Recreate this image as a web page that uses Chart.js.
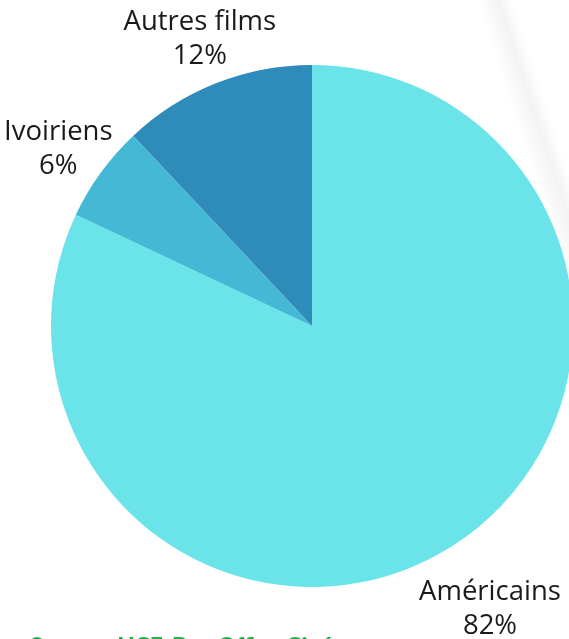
<!DOCTYPE html>
<html>
<head>
<meta charset="utf-8">
<script src="https://cdn.jsdelivr.net/npm/chart.js@4"></script>
<style>
  html, body { margin: 0; padding: 0; background: #fff; overflow: hidden; }
  #wrap { position: relative; width: 569px; height: 639px; overflow: hidden; }
  #shade {
    position: absolute; left: 470px; top: -20px; width: 34px; height: 300px;
    transform: rotate(-18deg); transform-origin: top left;
    background: linear-gradient(to right, rgba(255,255,255,0), rgba(228,228,232,0.45) 60%, rgba(255,255,255,0));
  }
  #chart { position: absolute; left: 0; top: 0; }
  #source {
    position: absolute; left: 30px; top: 634px; white-space: nowrap;
    font-family: Lato, sans-serif; font-weight: 900; font-size: 23px; line-height: 23px;
    color: #22b04b;
  }
</style>
</head>
<body>
<div id="wrap">
  <div id="shade"></div>
  <canvas id="chart" width="600" height="660"></canvas>
  <div id="source">Source : UCF, Box Office Ciné</div>
</div>
<script>
var categories = ['Américains', 'Ivoiriens', 'Autres films'];
var shares = [82, 6, 12];
var colors = ['#6ae4e8', '#45b8d6', '#2e8bba'];

// labels outside the pie: name on first line, percent below
var outsideLabels = {
  id: 'outsideLabels',
  afterDatasetsDraw: function (chart) {
    var ctx = chart.ctx;
    var meta = chart.getDatasetMeta(0);
    ctx.save();
    ctx.font = '27.5px "Open Sans", sans-serif';
    ctx.fillStyle = '#1a1a1a';
    ctx.textAlign = 'center';
    ctx.textBaseline = 'middle';
    meta.data.forEach(function (arc, i) {
      var p = arc.getProps(['x', 'y', 'startAngle', 'endAngle', 'outerRadius'], true);
      var mid = (p.startAngle + p.endAngle) / 2;
      var d = p.outerRadius + 60;
      var x = p.x + Math.cos(mid) * d + 6;
      var y = p.y + Math.sin(mid) * d + 12;
      ctx.fillText(categories[i], x, y - 17);
      ctx.fillText(shares[i] + '%', x, y + 17);
    });
    ctx.restore();
  }
};

var ctx = document.getElementById('chart');
var myChart = new Chart(ctx, {
  type: 'pie',
  data: {
    labels: categories,
    datasets: [{
      data: shares,
      backgroundColor: colors,
      borderWidth: 0
    }]
  },
  options: {
    responsive: false,
    animation: false,
    layout: { padding: { left: 51, right: 27, top: 65, bottom: 73 } },
    plugins: {
      legend: { display: false },
      tooltip: { enabled: false }
    }
  },
  plugins: [outsideLabels]
});
</script>
</body>
</html>
